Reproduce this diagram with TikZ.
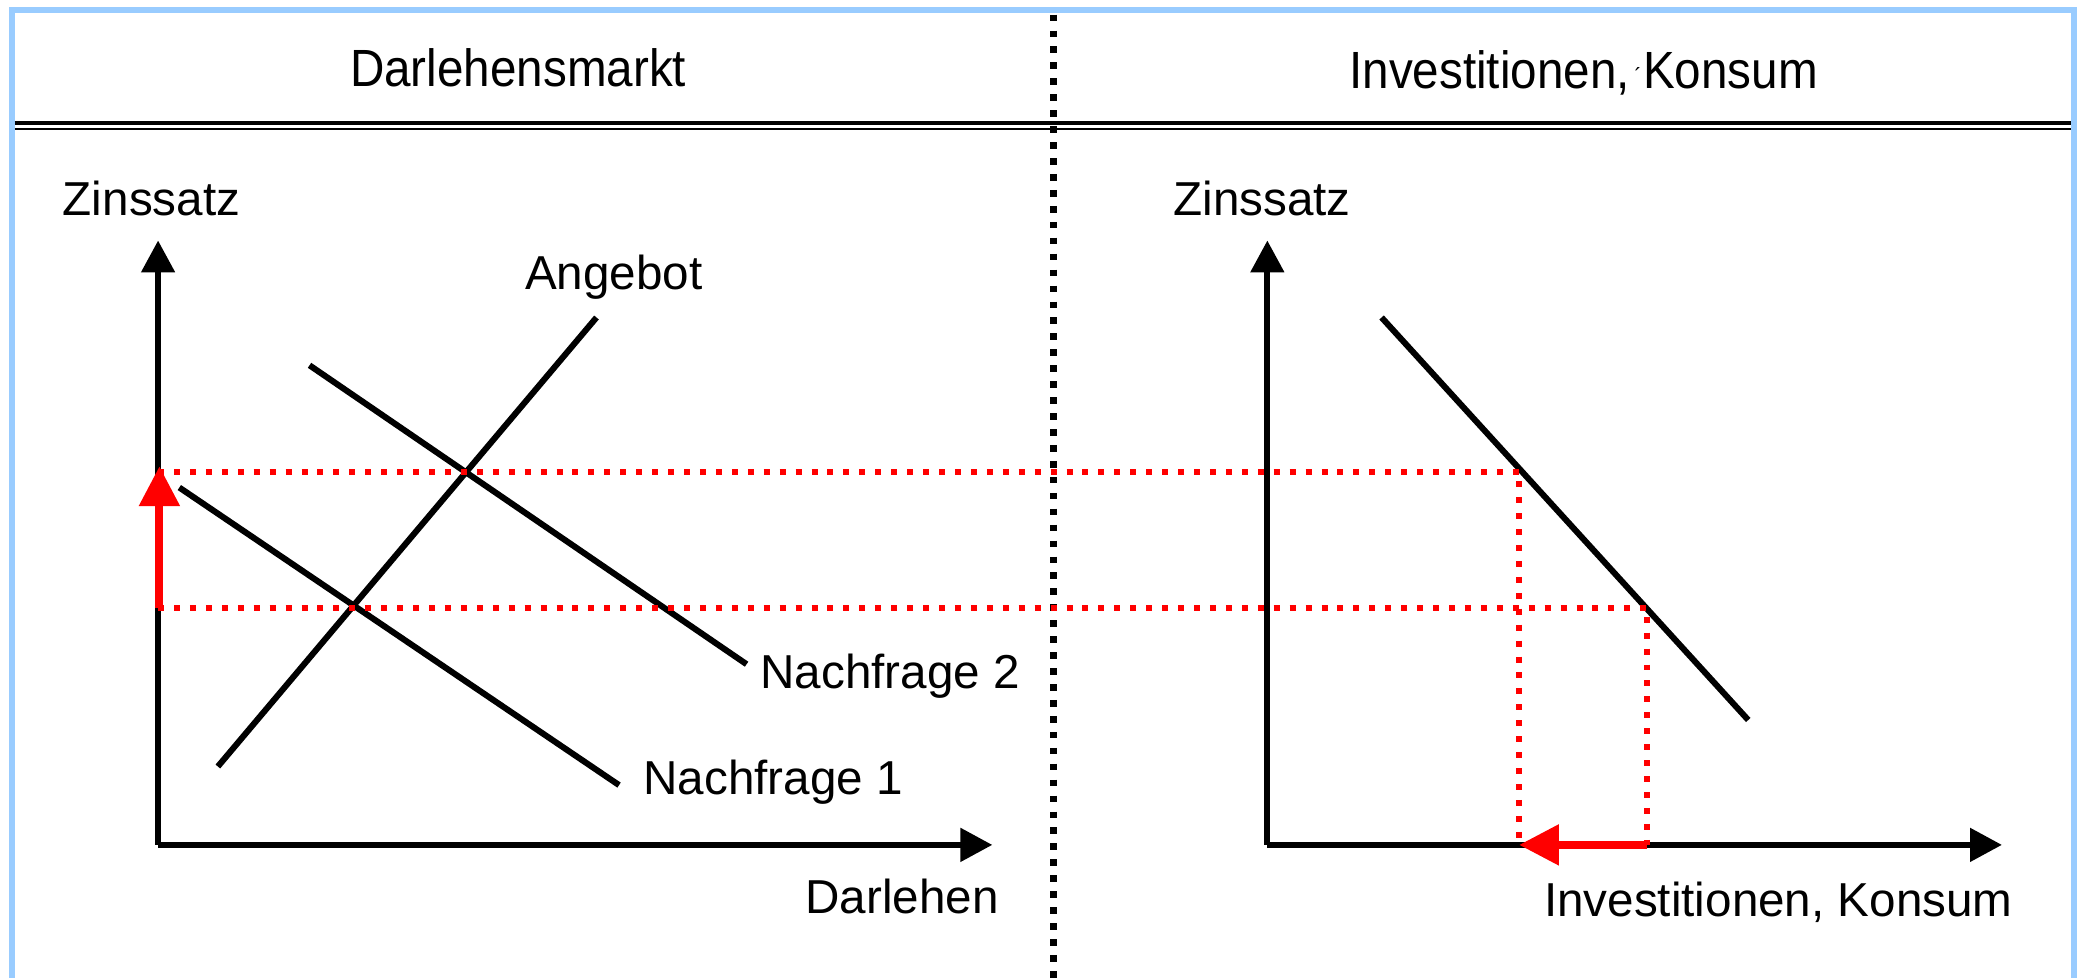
\documentclass[tikz,border=0pt]{standalone}
\usepackage{fontspec,graphicx}
\setmainfont{Liberation Sans}
\usetikzlibrary{arrows.meta}
\definecolor{rahmen}{RGB}{153,204,255}
\definecolor{rot}{RGB}{255,0,0}

\begin{document}
\begin{tikzpicture}[x=0.02cm, y=-0.02cm,
  every node/.style={font=\fontsize{20.4}{24}\selectfont, inner sep=0pt},
  lbl/.style={anchor=base west},
  titel/.style={anchor=base},
  achse/.style={line width=2.6pt, -{Triangle[width=0.49cm,length=0.48cm]}},
  kurve/.style={line width=2.6pt},
  hilfs/.style={rot, line width=2.6pt, dash pattern=on 0.09cm off 0.15cm},
  trenn/.style={line width=2.8pt, dash pattern=on 0.1cm off 0.14cm},
  verschieb/.style={rot, line width=3.4pt, -{Triangle[width=0.59cm,length=0.6cm]}}]
\useasboundingbox (0,0) rectangle (1568,736);
% frame and header
\draw[rahmen, line width=0.09cm] (9,736) -- (9,7.6) -- (1561,7.6) -- (1561,736);
\draw[line width=0.066cm] (11,92.6) -- (1559,92.6);
\draw[line width=0.03cm] (11,97.3) -- (1559,97.3);
\draw[trenn] (793,11) -- (793,736);
\node[titel] (t1) at (390,65) {\scalebox{1}[1.1]{Darlehensmarkt}};
\node[titel] (t2) at (1192,67) {\scalebox{1}[1.1]{Investitionen,\makebox[0pt][l]{\hspace{0.1em}\raisebox{0.06cm}{\fontsize{9}{9}\selectfont ´}} Konsum}};
% left: loan market
\coordinate (o1) at (119,636);
\coordinate (y1) at (119,181);
\coordinate (x1) at (747,636);
\draw[achse] (o1) -- (y1);
\draw[achse] (o1) -- (x1);
\node[lbl] (zl) at (47,162) {Zinssatz};
\node[lbl] (dl) at (606,688) {Darlehen};
\coordinate (a0) at (164,577); \coordinate (a1) at (449,239);
\coordinate (n20) at (233,275); \coordinate (n21) at (562,500);
\coordinate (n10) at (135,367); \coordinate (n11) at (466,591);
\draw[kurve] (a0) -- (a1);
\draw[kurve] (n20) -- (n21);
\draw[kurve] (n10) -- (n11);
\node[lbl] (ang) at (395,218) {Angebot};
\node[lbl] (nf2) at (572,518) {Nachfrage 2};
\node[lbl] (nf1) at (484,598) {Nachfrage 1};
% right: investment, consumption
\coordinate (o2) at (954,636);
\coordinate (y2) at (954,181);
\coordinate (x2) at (1507,636);
\draw[achse] (o2) -- (y2);
\draw[achse] (o2) -- (x2);
\node[lbl] (zr) at (883,162) {Zinssatz};
\node[lbl] (ik) at (1162,690) {Investitionen, Konsum};
\coordinate (i0) at (1040,239); \coordinate (i1) at (1316,542);
\draw[kurve] (i0) -- (i1);
% guide lines
\coordinate (r1) at (119,355); \coordinate (k1) at (1143.5,355); \coordinate (f1) at (1143.5,636);
\coordinate (r2) at (119,457.5); \coordinate (k2) at (1240,457.5); \coordinate (f2) at (1240,636);
\draw[hilfs] (r1) -- (k1) -- (f1);
\draw[hilfs] (r2) -- (k2) -- (f2);
\draw[verschieb] ([xshift=0.02cm]r2) -- ([xshift=0.02cm, yshift=0.08cm]r1);
\draw[verschieb] (f2) -- (f1);
\end{tikzpicture}
\end{document}
